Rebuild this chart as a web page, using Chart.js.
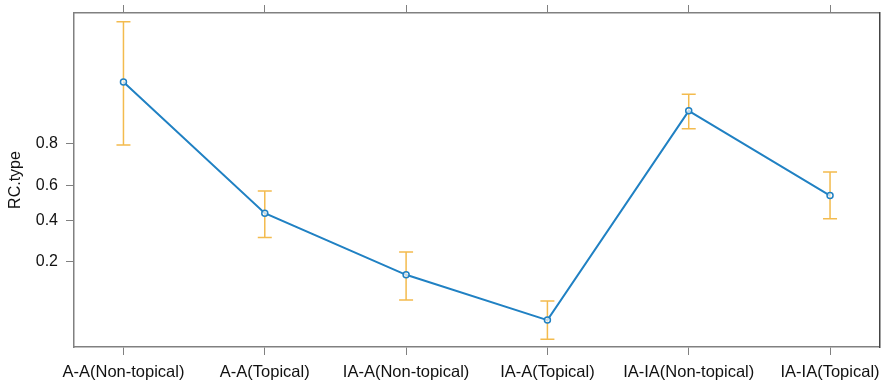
<!DOCTYPE html>
<html>
<head>
<meta charset="utf-8">
<script src="https://cdn.jsdelivr.net/npm/chart.js@4/dist/chart.umd.min.js"></script>
<style>
  body { margin: 0; background: #fff; }
  #chart { display: block; }
</style>
</head>
<body>
<canvas id="chart" width="885" height="382"></canvas>
<script>
// values (probability scale, logit spaced)
const xLabels = ["A-A(Non-topical)", "A-A(Topical)", "IA-A(Non-topical)", "IA-A(Topical)", "IA-IA(Non-topical)", "IA-IA(Topical)"];
const fitValues = [0.945, 0.440, 0.156, 0.060, 0.897, 0.543];
const lowerValues = [0.796, 0.307, 0.093, 0.039, 0.851, 0.409];
const upperValues = [0.986, 0.570, 0.240, 0.091, 0.928, 0.674];
const yTicks = [0.2, 0.4, 0.6, 0.8];

const lineBlue = "#2081c3";
const barGold = "#f3bb4e";
const frameGray = "#808080";

let logit = p => Math.log(p / (1 - p));
let invlogit = l => 1 / (1 + Math.exp(-l));

// y axis on a logit scale, like the effects package draws it
class LogitScale extends Chart.LinearScale {
  static id = "logit";
  static defaults = {};
  determineDataLimits() {
    this.min = this.options.min;
    this.max = this.options.max;
  }
  buildTicks() {
    return yTicks.map(v => ({value: v}));
  }
  configure() {
    super.configure();
    this._lo = logit(this.min);
    this._hi = logit(this.max);
  }
  getPixelForValue(v) {
    return this.getPixelForDecimal((logit(v) - this._lo) / (this._hi - this._lo));
  }
  getValueForPixel(p) {
    return invlogit(this._lo + this.getDecimalForPixel(p) * (this._hi - this._lo));
  }
}
Chart.register(LogitScale);

Chart.defaults.font.family = "'Liberation Sans', Arial, sans-serif";
Chart.defaults.font.size = 16;
Chart.defaults.color = "#111";

const errorBars = {
  id: "errorBars",
  beforeDatasetsDraw(chart) {
    const {ctx, scales: {x, y}} = chart;
    ctx.save();
    ctx.strokeStyle = barGold;
    ctx.lineWidth = 1.5;
    xLabels.forEach((_, i) => {
      let px = x.getPixelForValue(i);
      let lo = y.getPixelForValue(lowerValues[i]);
      let hi = y.getPixelForValue(upperValues[i]);
      ctx.beginPath();
      ctx.moveTo(px, lo); ctx.lineTo(px, hi);
      ctx.moveTo(px - 7, lo); ctx.lineTo(px + 7, lo);
      ctx.moveTo(px - 7, hi); ctx.lineTo(px + 7, hi);
      ctx.stroke();
    });
    ctx.restore();
  }
};

let catTicks = scale => { scale.ticks = xLabels.map((_, i) => ({value: i})); };
// keep the frame where the reference has it, labels may overhang
let noOverhang = s => { s.paddingTop = 0; s.paddingBottom = 0; s.paddingLeft = 0; s.paddingRight = 0; };

new Chart(document.querySelector("#chart"), {
  type: "line",
  data: {
    datasets: [{
      label: "RC.type",
      data: fitValues.map((v, i) => ({x: i, y: v})),
      borderColor: lineBlue,
      borderWidth: 2,
      pointRadius: 3,
      pointBorderWidth: 1.5,
      pointBorderColor: lineBlue,
      pointBackgroundColor: "rgba(255,255,255,0.7)",
      tension: 0
    }]
  },
  options: {
    responsive: false,
    animation: false,
    layout: { padding: 0 },
    plugins: { legend: { display: false }, tooltip: { enabled: false } },
    scales: {
      x: {
        type: "linear",
        position: "bottom",
        min: -0.35,
        max: 5.35,
        afterBuildTicks: catTicks,
        afterFit: s => { s.height = 35; noOverhang(s); },
        grid: { drawOnChartArea: false, tickLength: 8, color: frameGray },
        border: { color: frameGray, width: 1.5 },
        ticks: {
          autoSkip: false,
          maxRotation: 0,
          padding: 8,
          font: { size: 16.5 },
          callback: v => xLabels[v]
        }
      },
      x2: {
        type: "linear",
        position: "top",
        min: -0.35,
        max: 5.35,
        afterBuildTicks: catTicks,
        afterFit: s => { s.height = 13; noOverhang(s); },
        grid: { drawOnChartArea: false, tickLength: 8, color: frameGray },
        border: { color: frameGray, width: 1.5 },
        ticks: { display: false }
      },
      y: {
        type: "logit",
        position: "left",
        min: 0.0328,
        max: 0.9886,
        afterFit: s => { s.width = 74; noOverhang(s); },
        grid: { drawOnChartArea: false, tickLength: 8, color: frameGray },
        border: { color: frameGray, width: 1.5 },
        ticks: { padding: 8, callback: v => v.toFixed(1) },
        title: { display: true, text: "RC.type", padding: { top: 6, bottom: 0 } }
      },
      y2: {
        type: "linear",
        position: "right",
        afterFit: s => { s.width = 5; noOverhang(s); },
        grid: { display: false, drawTicks: false },
        border: { color: "#444", width: 1.5 },
        ticks: { display: false }
      }
    }
  },
  plugins: [errorBars]
});
</script>
</body>
</html>
